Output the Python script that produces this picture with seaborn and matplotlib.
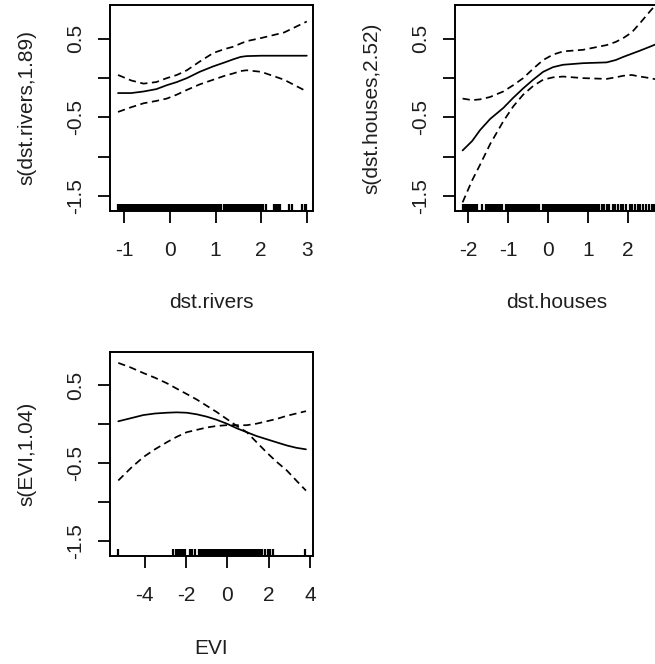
import matplotlib
matplotlib.use("Agg")
import matplotlib.pyplot as plt
import seaborn as sns
import numpy as np
import pandas as pd

sns.set_style("ticks")
plt.rcParams["font.family"] = ["Liberation Sans", "DejaVu Sans"]
plt.rcParams["axes.unicode_minus"] = False

# ---- smooth term: s(dst.rivers, 1.89) ----
rivers_x = [-1.14, -0.85, -0.58, -0.30, -0.07, 0.15, 0.37, 0.65, 0.95, 1.20, 1.39, 1.55, 1.68, 2.00, 2.50, 3.00]
rivers_fit = [-0.19, -0.19, -0.17, -0.14, -0.09, -0.05, 0.00, 0.08, 0.15, 0.20, 0.24, 0.27, 0.28, 0.285, 0.285, 0.285]
rivers_hi = [0.04, -0.03, -0.07, -0.05, 0.00, 0.04, 0.10, 0.21, 0.32, 0.37, 0.40, 0.44, 0.47, 0.51, 0.58, 0.72]
rivers_lo = [-0.43, -0.37, -0.32, -0.29, -0.26, -0.21, -0.15, -0.08, -0.02, 0.03, 0.06, 0.09, 0.10, 0.08, -0.02, -0.17]
rivers_rug = [-1.15, -1.12, -1.09, -1.06, -1.03, -1.00, -0.97, -0.94, -0.91, -0.88, -0.85, -0.82,
              -0.79, -0.76, -0.73, -0.70, -0.67, -0.64, -0.61, -0.58, -0.55, -0.52, -0.49, -0.46,
              -0.43, -0.40, -0.37, -0.34, -0.31, -0.28, -0.25, -0.22, -0.19, -0.16, -0.13, -0.10,
              -0.07, -0.04, -0.01, 0.02, 0.05, 0.08, 0.11, 0.14, 0.17, 0.20, 0.23, 0.26, 0.29,
              0.32, 0.35, 0.37, 0.42, 0.46,
              0.51, 0.54, 0.57, 0.60, 0.63, 0.66, 0.69, 0.72, 0.75, 0.78, 0.81, 0.84, 0.88, 0.93,
              0.97, 1.00, 1.03, 1.06, 1.09, 1.12,
              1.18, 1.21, 1.24, 1.27, 1.30, 1.33, 1.36, 1.39, 1.42, 1.45, 1.48, 1.51, 1.54, 1.57,
              1.60, 1.63, 1.66, 1.69, 1.72, 1.75, 1.78, 1.81, 1.84, 1.87, 1.90, 1.93, 1.96, 1.99,
              2.02, 2.05, 2.11, 2.29, 2.32, 2.35, 2.38, 2.41, 2.60, 2.67, 2.89, 2.95, 2.98]

# ---- smooth term: s(dst.houses, 2.52) ----
houses_x = [-2.14, -1.90, -1.70, -1.45, -1.12, -0.87, -0.62, -0.37, -0.12, 0.13, 0.38, 0.88, 1.47, 1.70, 1.89, 2.10, 2.31, 2.56, 2.75]
houses_fit = [-0.92, -0.80, -0.66, -0.52, -0.38, -0.25, -0.13, -0.02, 0.08, 0.14, 0.17, 0.19, 0.20, 0.23, 0.27, 0.31, 0.35, 0.40, 0.44]
houses_hi = [-0.26, -0.28, -0.27, -0.24, -0.17, -0.09, 0.00, 0.12, 0.23, 0.30, 0.34, 0.36, 0.42, 0.46, 0.51, 0.58, 0.70, 0.85, 0.96]
houses_lo = [-1.58, -1.30, -1.10, -0.84, -0.55, -0.36, -0.21, -0.10, -0.02, 0.01, 0.02, 0.00, -0.01, 0.01, 0.03, 0.04, 0.02, 0.00, -0.02]
houses_rug = [-2.12, -2.09, -2.05, -2.02, -1.98, -1.95, -1.91, -1.88, -1.84, -1.81, -1.77, -1.66,
              -1.55, -1.52, -1.48, -1.45, -1.41, -1.38, -1.34, -1.31, -1.27, -1.24, -1.20, -1.16,
              -1.04, -1.00, -0.97, -0.93, -0.90, -0.86, -0.83, -0.79, -0.76, -0.72, -0.69, -0.65,
              -0.62, -0.58, -0.55, -0.51, -0.48, -0.44, -0.41, -0.37, -0.34, -0.30, -0.27, -0.23,
              -0.13, -0.10, -0.06, -0.03, 0.01, 0.04, 0.08, 0.11, 0.15, 0.18, 0.22, 0.25, 0.29,
              0.32, 0.36, 0.39, 0.43, 0.46, 0.50, 0.53, 0.55,
              0.59, 0.62, 0.66, 0.69, 0.73, 0.76, 0.80, 0.83, 0.87, 0.90, 0.94, 0.97, 1.01, 1.04,
              1.08, 1.11, 1.15, 1.18, 1.22,
              1.29, 1.35, 1.40, 1.47, 1.54, 1.62, 1.68, 1.76, 1.82, 1.89, 1.97, 2.06, 2.12, 2.18,
              2.26, 2.32, 2.39, 2.47, 2.54, 2.60, 2.66, 2.72]

# ---- smooth term: s(EVI, 1.04) ----
evi_x = [-5.27, -4.66, -4.06, -3.50, -2.93, -2.45, -1.96, -1.48, -1.00, -0.52, -0.03, 0.46, 0.94, 1.42, 1.90, 2.38, 2.87, 3.33, 3.80]
evi_fit = [0.04, 0.08, 0.12, 0.14, 0.15, 0.155, 0.15, 0.13, 0.10, 0.06, 0.01, -0.05, -0.10, -0.15, -0.19, -0.23, -0.27, -0.30, -0.32]
evi_hi = [0.79, 0.73, 0.66, 0.60, 0.53, 0.46, 0.39, 0.32, 0.24, 0.16, 0.07, -0.02, -0.10, -0.23, -0.36, -0.48, -0.59, -0.72, -0.85]
evi_lo = [-0.72, -0.56, -0.42, -0.32, -0.23, -0.16, -0.10, -0.07, -0.04, -0.02, -0.01, -0.01, -0.01, 0.01, 0.04, 0.07, 0.11, 0.14, 0.17]
evi_rug = [-5.30, -2.61, -2.49, -2.40, -2.33, -2.26, -2.19, -2.12, -2.04, -1.80, -1.69, -1.56,
           -1.37, -1.30, -1.23, -1.16, -1.09, -1.02, -0.95, -0.88, -0.81, -0.74, -0.67, -0.60,
           -0.53, -0.46, -0.39, -0.32, -0.25, -0.18, -0.11, -0.04, 0.03, 0.10, 0.17, 0.24, 0.31,
           0.38, 0.45, 0.52, 0.59, 0.66, 0.73, 0.80, 0.87, 0.94, 1.01, 1.08, 1.15, 1.22, 1.29,
           1.36, 1.43, 1.50, 1.58, 1.69, 1.82, 1.95, 2.06, 2.19, 3.75]

y_ticks = [-1.5, -1.0, -0.5, 0.0, 0.5]
y_tick_labels = ["-1.5", "", "-0.5", "", "0.5"]

panels = [
    dict(x=rivers_x, fit=rivers_fit, hi=rivers_hi, lo=rivers_lo, rug=rivers_rug,
         xlabel="dst.rivers", ylabel="s(dst.rivers,1.89)",
         xticks=[-1, 0, 1, 2, 3], xlim=(-1.316, 3.136), box=(110, 5, 203, 206)),
    dict(x=houses_x, fit=houses_fit, hi=houses_hi, lo=houses_lo, rug=houses_rug,
         xlabel="dst.houses", ylabel="s(dst.houses,2.52)",
         xticks=[-2, -1, 0, 1, 2], xlim=(-2.33, 2.76), box=(455, 5, 203, 206)),
    dict(x=evi_x, fit=evi_fit, hi=evi_hi, lo=evi_lo, rug=evi_rug,
         xlabel="EVI", ylabel="s(EVI,1.04)",
         xticks=[-4, -2, 0, 2, 4], xlim=(-5.67, 4.14), box=(110, 352, 203, 204)),
]

W, H = 655, 664
fig = plt.figure(figsize=(W / 100, H / 100), dpi=100)
fig.patch.set_facecolor("white")
text_color = "#1e1e1e"
dash = (0, (4.2, 2.6))

for p in panels:
    left, top, w, h = p["box"]
    ax = fig.add_axes([left / W, 1 - (top + h) / H, w / W, h / H])
    ax.set_facecolor("white")
    df = pd.DataFrame({"x": p["x"], "fit": p["fit"], "hi": p["hi"], "lo": p["lo"]})
    sns.lineplot(data=df, x="x", y="fit", ax=ax, color="black", linewidth=1.25)
    sns.lineplot(data=df, x="x", y="hi", ax=ax, color="black", linewidth=1.25, linestyle=dash)
    sns.lineplot(data=df, x="x", y="lo", ax=ax, color="black", linewidth=1.25, linestyle=dash)
    sns.rugplot(x=p["rug"], ax=ax, height=0.036, color="black", linewidth=1.6,
                expand_margins=False)
    ax.set_xlim(*p["xlim"])
    ax.set_ylim(-1.69, 0.93)
    ax.set_xticks(p["xticks"])
    ax.set_xticklabels([str(t) for t in p["xticks"]])
    ax.set_yticks(y_ticks)
    ax.set_yticklabels(y_tick_labels, rotation=90, va="center")
    ax.tick_params(direction="out", length=8.6, width=1.3, labelsize=15,
                   color="black", labelcolor=text_color)
    ax.tick_params(axis="x", pad=13)
    ax.tick_params(axis="y", pad=9)
    for s in ax.spines.values():
        s.set_visible(True)
        s.set_linewidth(1.4)
        s.set_color("black")
    ax.set_xlabel(p["xlabel"], fontsize=15, color=text_color, va="center")
    ax.set_ylabel(p["ylabel"], fontsize=15, color=text_color, va="center", ha="center")
    ax.xaxis.set_label_coords(0.5, -92 / h)
    ax.yaxis.set_label_coords(-83 / w, 0.5)

fig.savefig("out.png", dpi=100, facecolor="white")
